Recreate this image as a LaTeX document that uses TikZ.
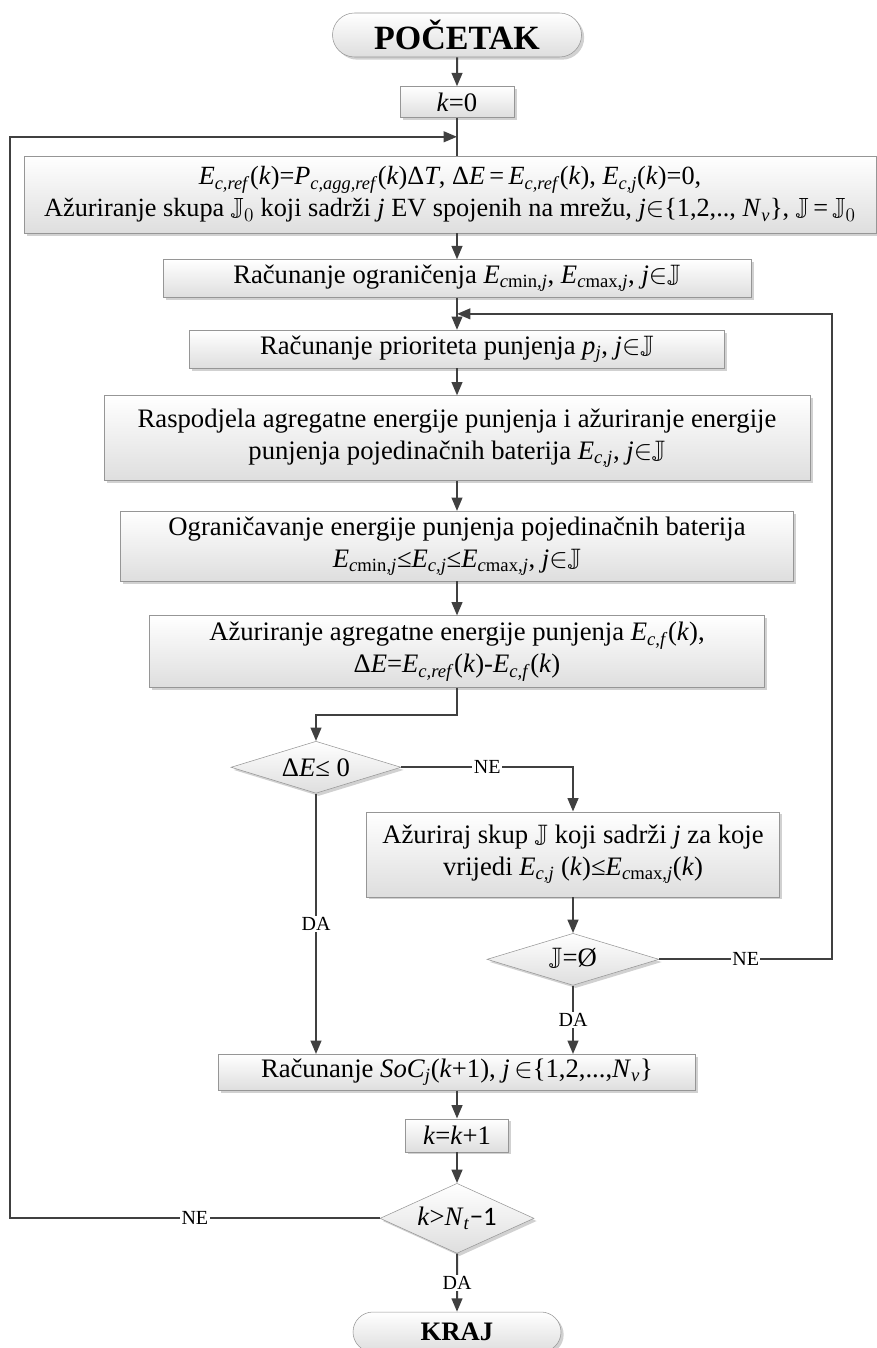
\documentclass[tikz,border=0pt]{standalone}
\usepackage{amssymb}
\usepackage{fontspec}
\setmainfont{Liberation Serif}
\newfontfamily\calib{Carlito}
\usepackage{tikz}
\usetikzlibrary{
  arrows.meta,
  positioning,
  shapes.geometric,
  shapes.misc,
  shadows,
  calc
}
\definecolor{linegray}{RGB}{64,64,64}
\definecolor{boxedge}{RGB}{150,150,150}
\definecolor{boxfill}{RGB}{222,222,222}

\newcommand{\sbx}[2]{\textit{#1}\textsubscript{#2}}
\newcommand{\ik}{(\textit{k})}
\newcommand{\Jset}{$\mathbb{J}$}
\newcommand{\jinJ}{\textit{j}$\in$\Jset}
\newcommand{\Ecmin}{\sbx{E}{\textit{c}min,\textit{j}}}
\newcommand{\Ecmax}{\sbx{E}{\textit{c}max,\textit{j}}}
\newcommand{\Ecj}{\sbx{E}{\textit{c,j}}}
\newcommand{\Ecref}{\sbx{E}{\textit{c,ref}}}
\newcommand{\Ecf}{\sbx{E}{\textit{c,f}}}

\begin{document}
\begin{tikzpicture}[
  x=0.75pt,y=0.75pt,
  box/.style={draw=boxedge,top color=white,bottom color=boxfill,
              drop shadow={shadow xshift=2pt,shadow yshift=-2pt,fill=black!30,opacity=.6},
              align=center,inner sep=1.5pt,font=\fontsize{20}{24}\selectfont},
  term/.style={box,rounded rectangle,font=\fontsize{25.5}{28}\selectfont\bfseries},
  decision/.style={box,diamond,aspect=3.2,inner sep=0pt},
  lbl/.style={fill=white,inner sep=1pt,font=\fontsize{15}{18}\selectfont},
  arr/.style={-{Triangle[length=10pt,width=8pt]},line width=1.5pt,draw=linegray},
  ln/.style={line width=1.5pt,draw=linegray},
]
\useasboundingbox (0,0) rectangle (877,-1348);

\node[term,minimum width=189.75pt,minimum height=33pt] (start) at (457,-35) {POČETAK};
\node[box,below=21.75pt of start,minimum width=85.5pt,minimum height=23.25pt] (k0) {\textit{k}=0};
\node[box,below=28.5pt of k0,xshift=-5.25pt,minimum width=639pt,minimum height=57.75pt,
      font=\fontsize{19.7}{24}\selectfont] (init)
  {\Ecref\ik=\sbx{P}{\textit{c,agg,ref}}\ik Δ\textit{T}, Δ\textit{E}\,=\,\Ecref\ik, \Ecj\ik=0,\\
   Ažuriranje skupa $\mathbb{J}_0$ koji sadrži \textit{j} EV spojenih na mrežu, \textit{j}$\in$\{1,2,.., \sbx{N}{\textit{v}}\}, \Jset\,=\,$\mathbb{J}_0$};
\node[box,below=19.5pt of init,xshift=5.25pt,minimum width=441pt,minimum height=28.5pt] (lim)
  {Računanje ograničenja \Ecmin, \Ecmax, \jinJ};
\node[box,below=24pt of lim,minimum width=401.25pt,minimum height=28.5pt] (prio)
  {Računanje prioriteta punjenja \sbx{p}{\textit{j}}, \jinJ};
\node[box,below=20.25pt of prio,minimum width=529.5pt,minimum height=63.75pt] (raspo)
  {Raspodjela agregatne energije punjenja i ažuriranje energije\\
   punjenja pojedinačnih baterija \Ecj, \jinJ};
\node[box,below=22.5pt of raspo,minimum width=504.75pt,minimum height=52.5pt] (ogran)
  {Ograničavanje energije punjenja pojedinačnih baterija\\
   \Ecmin≤\Ecj≤\Ecmax, \jinJ};
\node[box,below=25.5pt of ogran,minimum width=461.25pt,minimum height=54pt] (agg)
  {Ažuriranje agregatne energije punjenja \Ecf\ik,\\
   Δ\textit{E}=\Ecref\ik-\Ecf\ik};
\node[decision,below=39.75pt of agg,xshift=-105.75pt,minimum width=127.5pt,minimum height=39pt] (dE)
  {Δ\textit{E}≤ 0};
\node[box,below=13.5pt of dE,xshift=192.75pt,minimum width=309.75pt,minimum height=63.75pt] (upd)
  {Ažuriraj skup \Jset{} koji sadrži \textit{j} za koje\\
   vrijedi \Ecj{} \ik≤\Ecmax\ik};
\node[decision,below=27pt of upd,minimum width=129pt,minimum height=39pt] (empty)
  {\Jset=Ø};
\node[box,below=274.5pt of agg,minimum width=357.75pt,minimum height=27pt] (soc)
  {Računanje \sbx{SoC}{\textit{j}}(\textit{k}+1), \textit{j}\,$\in$\{1,2,...,\sbx{N}{\textit{v}}\}};
\node[box,below=21pt of soc,minimum width=77.25pt,minimum height=24.75pt] (kinc)
  {\textit{k}=\textit{k}+1};
\node[decision,below=23.25pt of kinc,aspect=2.2,minimum width=115.5pt,minimum height=52.5pt] (kend)
  {\textit{k}>\sbx{N}{\textit{t}}{\calib −1}};
\node[term,minimum width=159pt,minimum height=30pt,
      font=\fontsize{20}{24}\selectfont\bfseries] (stop) at (457,-1332) {KRAJ};

% loop points
\coordinate (lx) at (10,0);
\coordinate (rx) at (832,0);
\coordinate (loopA) at ($(k0.south)!0.5!(k0.south |- init.north)$);
\coordinate (loopB) at ($(lim.south)!0.5!(prio.north)$);

\draw[arr] (start) -- (k0);
\draw[ln]  (k0) -- (k0.south |- init.north);
\draw[arr] (k0 |- init.south) -- (lim);
\draw[ln]  (lim) -- (loopB);
\draw[arr] (loopB) -- (prio);
\draw[arr] (prio) -- (raspo);
\draw[arr] (raspo) -- (ogran);
\draw[arr] (ogran) -- (agg);
\draw[arr] (agg.south) -- ++(0,-20.25pt) -| (dE.north);
\draw[arr] (dE.east) -- node[lbl]{NE} (dE.east -| upd.north) -- (upd.north);
\draw[arr] (upd) -- (empty);
\draw[arr] (empty.east) -- node[lbl]{NE} (empty.east -| rx) |- (loopB);
\draw[arr] (dE.south) -- node[lbl]{DA} (dE.south |- soc.north);
\draw[arr] (empty.south) -- node[lbl]{DA} (empty.south |- soc.north);
\draw[arr] (soc) -- (kinc);
\draw[arr] (kinc) -- (kend);
\draw[arr] (kend.west) -- node[lbl]{NE} (kend.west -| lx) |- (loopA);
\draw[arr] (kend) -- node[lbl]{DA} (stop);
\end{tikzpicture}
\end{document}
